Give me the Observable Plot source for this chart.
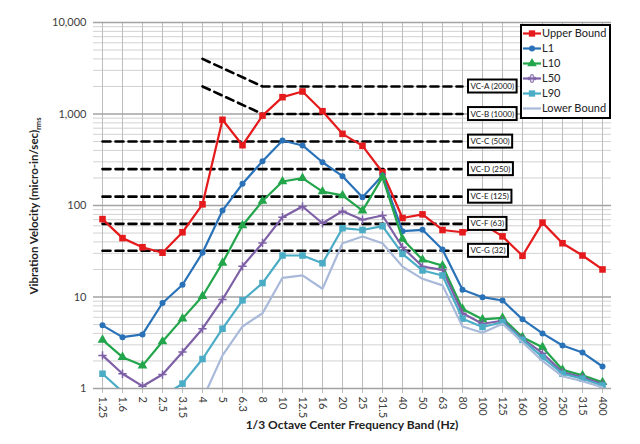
<!DOCTYPE html>
<html><head><meta charset="utf-8">
<script src="https://cdn.jsdelivr.net/npm/d3@7"></script>
<script src="https://cdn.jsdelivr.net/npm/@observablehq/plot@0.6"></script>
<style>
body{margin:0;background:#fff;}
#chart svg{font-family:Lato,"Liberation Sans",sans-serif;}
#chart g[aria-label^="x-axis"] line, #chart g[aria-label^="x-axis"] path{stroke:#bdbdbd;}
</style></head><body><div id="chart"></div>
<script>
const bands = ["1.25","1.6","2","2.5","3.15","4","5","6.3","8","10","12.5","16","20","25","31.5","40","50","63","80","100","125","160","200","250","315","400"];
const upperBound = [71,44,35,30.5,51,103,865,456,960,1527,1762,1073,607,449,231,73,80,54,51,63,46,28.2,65,38.7,28.4,20];
const l1 = [4.9,3.64,3.9,8.6,13.6,30.4,88,173,305,513,453,297,209,123,213,52.4,54.2,33,12,9.95,9.15,5.7,4.0,2.95,2.47,1.74];
const l10 = [3.4,2.2,1.78,3.26,5.8,10.2,23.6,60.5,112,183,199,142,129,88,204,43,25.5,22,7.4,5.7,5.9,3.64,2.83,1.6,1.39,1.17];
const l50 = [2.3,1.45,1.06,1.42,2.5,4.5,9.4,21.7,39,74.5,97.5,64,86.7,69.8,77.8,35,21.5,19.8,6.65,5.1,5.5,3.5,2.43,1.5,1.33,1.12];
const l90 = [1.45,0.92,0.7,0.82,1.13,2.1,4.5,9.2,14.2,28.4,28.4,23.4,56.5,54,59.4,29.6,19.5,17.2,5.8,4.7,5.3,3.4,2.2,1.45,1.28,1.08];
const lowerBound = [null,null,null,null,null,0.76,2.3,4.76,6.65,16.2,17.2,12.3,38.7,45.8,38.7,21.5,15.8,13.4,4.76,4.06,5.1,3.2,2.0,1.36,1.2,1.03];

const seriesNames = ["Upper Bound","L1","L10","L50","L90","Lower Bound"];
const seriesValues = [upperBound,l1,l10,l50,l90,lowerBound];
const seriesColors = ["#e41a1c","#2a72b8","#22a54b","#7e60a6","#4bacc6","#a9b9d9"];
const seriesSymbols = ["square","circle","triangle","plus","square",null];

const vcNames = ["VC-A (2000)","VC-B (1000)","VC-C (500)","VC-D (250)","VC-E (125)","VC-F (63)","VC-G (32)"];
const vcValues = [2000,1000,500,250,125,63,32];
const vcStartBand = ["4","4","1.25","1.25","1.25","1.25","1.25"];
const vcStartValue = [4000,2000,500,250,125,63,32];
const vcKneeBand = "8";
const vcEndBand = "80";

const yTicks = [1,10,100,1000,10000];

// build tables
const rows = [];
seriesNames.forEach((s,k)=>bands.forEach((b,i)=>rows.push({series:s,band:b,value:seriesValues[k][i]})));
const vcPts = [];
vcNames.forEach((n,i)=>{
  vcPts.push({name:n,band:vcStartBand[i],value:vcStartValue[i]});
  if (vcStartBand[i] !== "1.25") vcPts.push({name:n,band:vcKneeBand,value:vcValues[i]});
  vcPts.push({name:n,band:vcEndBand,value:vcValues[i]});
});
const minor = [];
for (let d=1; d<10000; d*=10) for (let m=2; m<10; m++) minor.push(d*m);

const marks = [
  Plot.ruleY(minor,{stroke:"#d2d2d2",strokeWidth:1}),
  Plot.ruleX(bands,{stroke:"#bdbdbd",strokeWidth:1}),
  Plot.ruleY(yTicks,{stroke:"#a3a3a3",strokeWidth:1.4}),
  Plot.line(vcPts,{x:"band",y:"value",z:"name",stroke:"#000",strokeWidth:2.6,strokeDasharray:"8,5"})
];
seriesNames.forEach((s,k)=>{
  const d = rows.filter(r=>r.series===s);
  marks.push(Plot.line(d,{x:"band",y:"value",stroke:seriesColors[k],strokeWidth:2.2,clip:true}));
  const sym = seriesSymbols[k];
  if (sym === "plus") marks.push(Plot.dot(d,{x:"band",y:"value",symbol:"plus",stroke:seriesColors[k],strokeWidth:1.5,r:2.8,clip:true}));
  else if (sym) marks.push(Plot.dot(d,{x:"band",y:"value",symbol:sym,fill:seriesColors[k],stroke:"none",r:sym==="circle"?3:(sym==="triangle"?3.6:3.7),clip:true}));
});
marks.push(Plot.text(vcNames,{x:()=>vcEndBand,y:(d,i)=>vcValues[i],text:d=>d,dx:8,textAnchor:"start",fontSize:8,fill:"#111"}));

const chart = Plot.plot({
  width:640,height:444,
  marginLeft:93,marginRight:29,marginTop:22,marginBottom:56,
  style:{fontSize:"11px",fontFamily:"Lato, 'Liberation Sans', sans-serif",color:"#404040",background:"#fff"},
  x:{type:"point",domain:bands,padding:0,tickRotate:90,tickSize:5,tickPadding:3,label:null},
  y:{type:"log",domain:[1,10000],ticks:yTicks,tickFormat:d3.format(","),tickSize:0,tickPadding:7,label:null},
  marks
});
document.getElementById("chart").appendChild(chart);

const svg = d3.select(chart);
// boxes behind VC labels
svg.selectAll("text").filter(function(){return vcNames.includes(this.textContent);}).each(function(){
  const bb = this.getBBox();
  const r = document.createElementNS("http://www.w3.org/2000/svg","rect");
  r.setAttribute("x",bb.x-2.5); r.setAttribute("y",bb.y-1.5);
  r.setAttribute("width",bb.width+5); r.setAttribute("height",bb.height+3);
  r.setAttribute("fill","#fff"); r.setAttribute("stroke","#000"); r.setAttribute("stroke-width","2");
  const t = this.getAttribute("transform"); if (t) r.setAttribute("transform",t);
  this.parentNode.insertBefore(r,this);
});

// legend
const lg = svg.append("g").attr("text-anchor","start");
lg.append("rect").attr("x",521).attr("y",25).attr("width",89).attr("height",93)
  .attr("fill","#fff").attr("stroke","#000").attr("stroke-width",2);
seriesNames.forEach((s,k)=>{
  const y = 33.5+15*k;
  lg.append("line").attr("x1",523).attr("x2",541).attr("y1",y).attr("y2",y)
    .attr("stroke",seriesColors[k]).attr("stroke-width",2.2);
  const sym = seriesSymbols[k];
  if (sym){
    const p = d3.symbol().type({square:d3.symbolSquare,circle:d3.symbolCircle,triangle:d3.symbolTriangle,plus:d3.symbolCross}[sym])
      .size(sym==="circle"?28:(sym==="plus"?30:40))();
    lg.append("path").attr("d",p).attr("transform",`translate(532,${y})`)
      .attr("fill",sym==="plus"?"none":seriesColors[k]).attr("stroke",sym==="plus"?seriesColors[k]:"none");
  }
  lg.append("text").attr("x",542).attr("y",y).attr("dy","0.35em").attr("text-anchor","start")
    .attr("font-size",11).attr("fill","#222").text(s);
});

// axis titles
const yt = svg.append("text").attr("transform","translate(38,206) rotate(-90)")
  .attr("text-anchor","middle").attr("font-size",11.5).attr("font-weight","bold").attr("fill","#222");
yt.append("tspan").text("Vibration Velocity (micro-in/sec)");
yt.append("tspan").attr("font-size",7.5).attr("dy",3).text("rms");
svg.append("text").attr("x",352).attr("y",429).attr("text-anchor","middle")
  .attr("font-size",12).attr("font-weight","bold").attr("fill","#222")
  .text("1/3 Octave Center Frequency Band (Hz)");
</script></body></html>
